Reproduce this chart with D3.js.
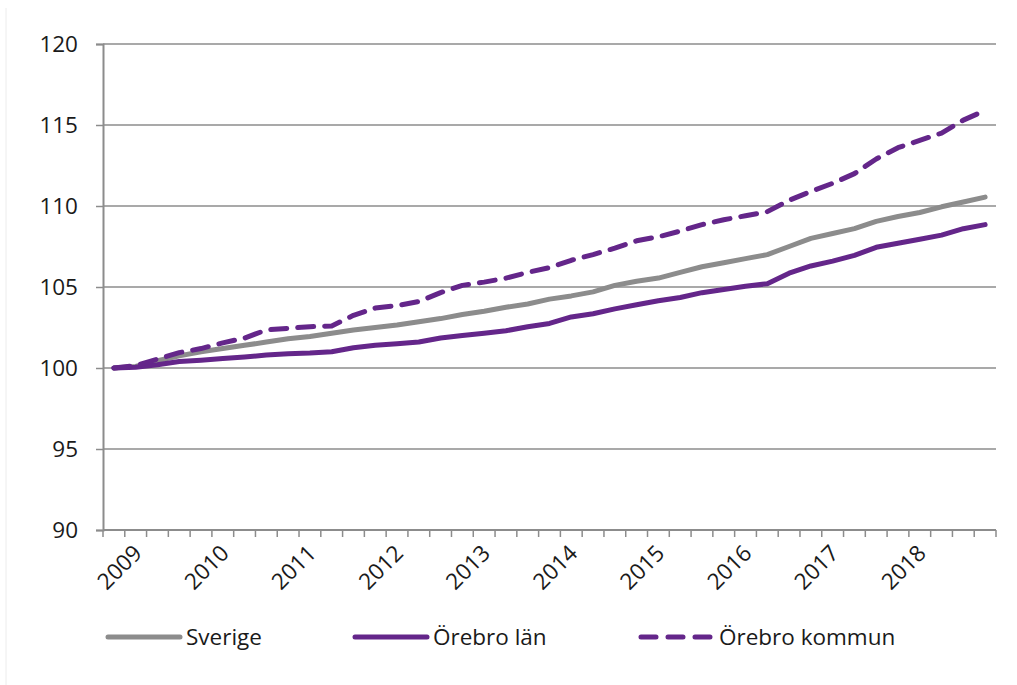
<!DOCTYPE html>
<html lang="sv">
<head>
<meta charset="utf-8">
<title>Index 2009 = 100</title>
<script src="https://d3js.org/d3.v7.min.js"></script>
<style>
  body { margin: 0; background: #fff; }
  svg text { font-family: "Open Sans", sans-serif; fill: #1a1a1a; }
</style>
</head>
<body>
<div id="chart"></div>
<script>
// quarters, 2008 K4 .. 2018 K4
var categories = ["2008K4",
  "2009K1","2009K2","2009K3","2009K4",
  "2010K1","2010K2","2010K3","2010K4",
  "2011K1","2011K2","2011K3","2011K4",
  "2012K1","2012K2","2012K3","2012K4",
  "2013K1","2013K2","2013K3","2013K4",
  "2014K1","2014K2","2014K3","2014K4",
  "2015K1","2015K2","2015K3","2015K4",
  "2016K1","2016K2","2016K3","2016K4",
  "2017K1","2017K2","2017K3","2017K4",
  "2018K1","2018K2","2018K3","2018K4"];

// category shown under each year label
var tickCats = ["2009K1","2010K1","2011K1","2012K1","2013K1","2014K1","2015K1","2016K1","2017K1","2018K1"];
var tickLabels = ["2009","2010","2011","2012","2013","2014","2015","2016","2017","2018"];
var yTicks = [90, 95, 100, 105, 110, 115, 120];

var sverige = [100, 100.1, 100.45, 100.75, 101.0, 101.2, 101.4, 101.6, 101.8, 101.95,
  102.15, 102.35, 102.5, 102.65, 102.85, 103.05, 103.3, 103.5, 103.75, 103.95,
  104.25, 104.45, 104.7, 105.1, 105.35, 105.55, 105.9, 106.25, 106.5, 106.75,
  107.0, 107.5, 108.0, 108.3, 108.6, 109.05, 109.35, 109.6, 109.95, 110.25, 110.55];

var orebroLan = [100, 100.05, 100.2, 100.4, 100.48, 100.58, 100.68, 100.8, 100.88, 100.92,
  101.0, 101.25, 101.4, 101.5, 101.6, 101.85, 102.0, 102.15, 102.3, 102.55,
  102.75, 103.15, 103.35, 103.65, 103.9, 104.15, 104.35, 104.65, 104.85, 105.05,
  105.2, 105.85, 106.3, 106.6, 106.95, 107.45, 107.7, 107.95, 108.2, 108.6, 108.85];

var orebroKommun = [100, 100.15, 100.55, 100.95, 101.2, 101.55, 101.85, 102.35, 102.45, 102.55,
  102.6, 103.25, 103.7, 103.85, 104.1, 104.65, 105.1, 105.3, 105.55, 105.9,
  106.2, 106.65, 107.0, 107.4, 107.85, 108.1, 108.45, 108.85, 109.15, 109.4,
  109.65, 110.35, 110.9, 111.4, 112.0, 112.9, 113.6, 114.05, 114.5, 115.3, 115.9];

var seriesNames = ["Sverige", "Örebro län", "Örebro kommun"];
var seriesColors = ["#8c8c8c", "#64268a", "#64268a"];
var seriesDash = [null, null, "16,11"];
var seriesData = [sverige, orebroLan, orebroKommun];

var width = 1017, height = 685;
var plotLeft = 103, plotRight = 996, plotTop = 44, plotBottom = 530;
var fontSize = "22.5px";

var svg = d3.select("#chart").append("svg")
  .attr("width", width)
  .attr("height", height);

// faint frame edge on the left
svg.append("line")
  .attr("x1", 6).attr("x2", 6).attr("y1", 8).attr("y2", height)
  .style("stroke", "#ececec").style("stroke-width", 1);

var x = d3.scaleBand().domain(categories).range([plotLeft, plotRight]).padding(0);
var y = d3.scaleLinear().domain([90, 120]).range([plotBottom, plotTop]);
function cx(c) { return x(c) + x.bandwidth() / 2; }

// gridlines
svg.selectAll("line.grid")
  .data(yTicks.filter(function(d) { return d > 90; }))
  .enter().append("line")
  .attr("class", "grid")
  .attr("x1", plotLeft).attr("x2", plotRight)
  .attr("y1", function(d) { return y(d); })
  .attr("y2", function(d) { return y(d); })
  .style("stroke", "#8c8c8c").style("stroke-width", 1.5);

// y axis
var yAxis = svg.append("g")
  .attr("transform", "translate(" + plotLeft + ",0)")
  .call(d3.axisLeft(y).tickValues(yTicks).tickSize(7).tickPadding(18));
yAxis.select(".domain").style("stroke", "#8c8c8c").style("stroke-width", 2);
yAxis.selectAll(".tick line").style("stroke", "#8c8c8c").style("stroke-width", 1.5);
yAxis.selectAll(".tick text").style("font-size", fontSize).style("fill", "#1a1a1a")
  .style("font-family", "'Open Sans', sans-serif");

// x axis line and ticks between categories
svg.append("line")
  .attr("x1", plotLeft).attr("x2", plotRight)
  .attr("y1", plotBottom).attr("y2", plotBottom)
  .style("stroke", "#8c8c8c").style("stroke-width", 2);

var edges = categories.map(function(c) { return x(c); }).concat([plotRight]);
svg.selectAll("line.xtick")
  .data(edges)
  .enter().append("line")
  .attr("class", "xtick")
  .attr("x1", function(d) { return d; }).attr("x2", function(d) { return d; })
  .attr("y1", plotBottom).attr("y2", plotBottom + 7)
  .style("stroke", "#8c8c8c").style("stroke-width", 1.5);

svg.selectAll("text.xlabel")
  .data(tickCats)
  .enter().append("text")
  .attr("class", "xlabel")
  .attr("transform", function(d) { return "translate(" + (cx(d) + 2) + "," + (plotBottom + 19) + ") rotate(-45)"; })
  .attr("text-anchor", "end")
  .attr("dy", "0.35em")
  .style("font-size", fontSize)
  .text(function(d, i) { return tickLabels[i]; });

// lines
var line = d3.line()
  .x(function(d, i) { return cx(categories[i]); })
  .y(function(d) { return y(d); });

seriesData.forEach(function(s, k) {
  svg.append("path")
    .datum(s)
    .attr("d", line)
    .style("fill", "none")
    .style("stroke", seriesColors[k])
    .style("stroke-width", 5)
    .style("stroke-linejoin", "round")
    .style("stroke-linecap", "round")
    .style("stroke-dasharray", seriesDash[k]);
});

// legend
var legendX = [108, 355, 641];
var legend = svg.selectAll("g.legend")
  .data(seriesNames)
  .enter().append("g")
  .attr("class", "legend")
  .attr("transform", function(d, i) { return "translate(" + legendX[i] + ",637)"; });

legend.append("line")
  .attr("x1", 0).attr("x2", 72)
  .attr("y1", 0).attr("y2", 0)
  .style("stroke", function(d, i) { return seriesColors[i]; })
  .style("stroke-width", 5)
  .style("stroke-linecap", "round")
  .style("stroke-dasharray", function(d, i) { return seriesDash[i] ? "15,12" : null; });

legend.append("text")
  .attr("x", 78)
  .attr("dy", "0.35em")
  .style("font-size", fontSize)
  .text(function(d) { return d; });
</script>
</body>
</html>
